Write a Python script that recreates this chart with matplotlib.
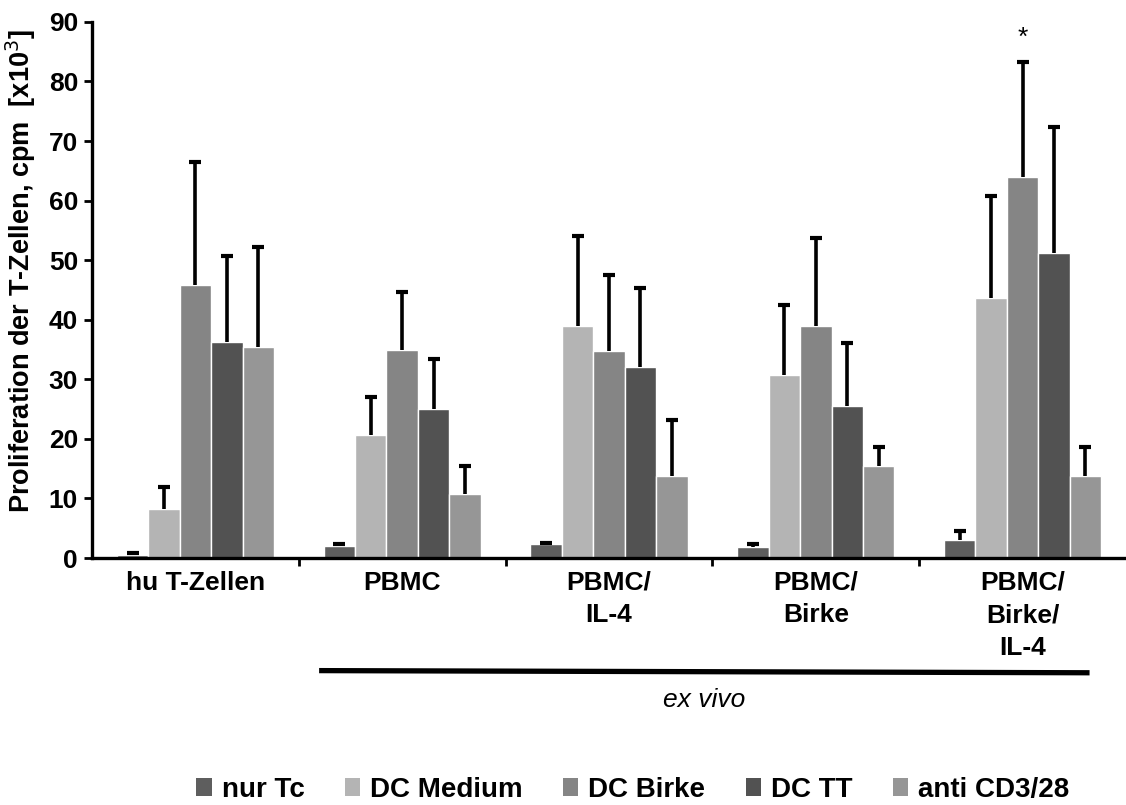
import numpy as np
import matplotlib
matplotlib.use("Agg")
import matplotlib.pyplot as plt
from matplotlib.patches import Patch

plt.rcParams['font.family'] = ['Liberation Sans', 'DejaVu Sans']

# Data, x10^3 cpm
groups = ["hu T-Zellen", "PBMC", "PBMC/\nIL-4", "PBMC/\nBirke", "PBMC/\nBirke/\nIL-4"]
series = ["nur Tc", "DC Medium", "DC Birke", "DC TT", "anti CD3/28"]
colors = ["#5e5e5e", "#b4b4b4", "#858585", "#525252", "#969696"]

means = {
    "nur Tc":      [0.45, 2.0, 2.3, 1.9, 3.1],
    "DC Medium":   [8.2, 20.7, 38.9, 30.8, 43.7],
    "DC Birke":    [45.8, 35.0, 34.8, 39.0, 63.9],
    "DC TT":       [36.2, 25.0, 32.1, 25.6, 51.2],
    "anti CD3/28": [35.4, 10.7, 13.8, 15.5, 13.7],
}
upper = {
    "nur Tc":      [0.8, 2.4, 2.6, 2.3, 4.5],
    "DC Medium":   [12.0, 27.0, 54.0, 42.5, 60.8],
    "DC Birke":    [66.5, 44.7, 47.5, 53.8, 83.3],
    "DC TT":       [50.7, 33.4, 45.4, 36.1, 72.4],
    "anti CD3/28": [52.2, 15.5, 23.2, 18.7, 18.7],
}

fig = plt.figure(figsize=(11.26, 8.05), dpi=100)
ax = fig.add_axes([0.0817, 0.3068, 0.9183, 0.666])

x = np.arange(len(groups))
w = 0.152
for i, s in enumerate(series):
    xs = x + (i - 2) * w
    m = np.array(means[s])
    up = np.array(upper[s])
    ax.bar(xs, m, width=w, color=colors[i], edgecolor="white", linewidth=1, zorder=2)
    # one-sided error bars: stem + top cap only
    ax.vlines(xs, m, up, color="black", lw=2.6, zorder=3)
    ax.plot(xs, up, ls="none", marker="_", ms=9, mew=3, color="black", zorder=3)

ax.set_ylim(0, 90)
ax.set_xlim(-0.5, 4.5)
ax.set_yticks(np.arange(0, 91, 10))
ax.tick_params(axis="y", labelsize=19, width=2, length=6, pad=4)
for lab in ax.get_yticklabels():
    lab.set_fontweight("bold")

ax.set_xticks(x)
ax.set_xticklabels(groups, fontsize=19, fontweight="bold", va="top")
for lab in ax.get_xticklabels():
    lab.set_linespacing(1.45)
ax.tick_params(axis="x", length=0, pad=9)
ax.set_xticks(np.arange(0.5, 4.5, 1), minor=True)
ax.tick_params(axis="x", which="minor", length=6, width=2)

for sp in ["top", "right"]:
    ax.spines[sp].set_visible(False)
for sp in ["left", "bottom"]:
    ax.spines[sp].set_linewidth(2.4)

ax.set_ylabel("Proliferation der T-Zellen, cpm  [x10$^3$]", fontsize=19.5, fontweight="bold")
ax.yaxis.set_label_coords(-0.052, 0.536)

ax.text(4.0, 87.4, "*", ha="center", va="center", fontsize=19)

# ex vivo bracket
trans = ax.get_xaxis_transform()
ax.plot([0.611, 4.311], [-0.21, -0.214], transform=trans, color="black", lw=3.8, clip_on=False)
ax.text(2.46, -0.264, "ex vivo", transform=trans, ha="center", va="center",
        fontsize=19, style="italic")

handles = [Patch(facecolor=c, label=s) for c, s in zip(colors, series)]
fig.legend(handles=handles, loc="center", bbox_to_anchor=(0.562, 0.019), ncol=5,
           frameon=False, prop={"size": 20, "weight": "bold"}, handlelength=0.55,
           handleheight=0.6, handletextpad=0.36, columnspacing=1.45)

fig.savefig("out.png", dpi=100)
